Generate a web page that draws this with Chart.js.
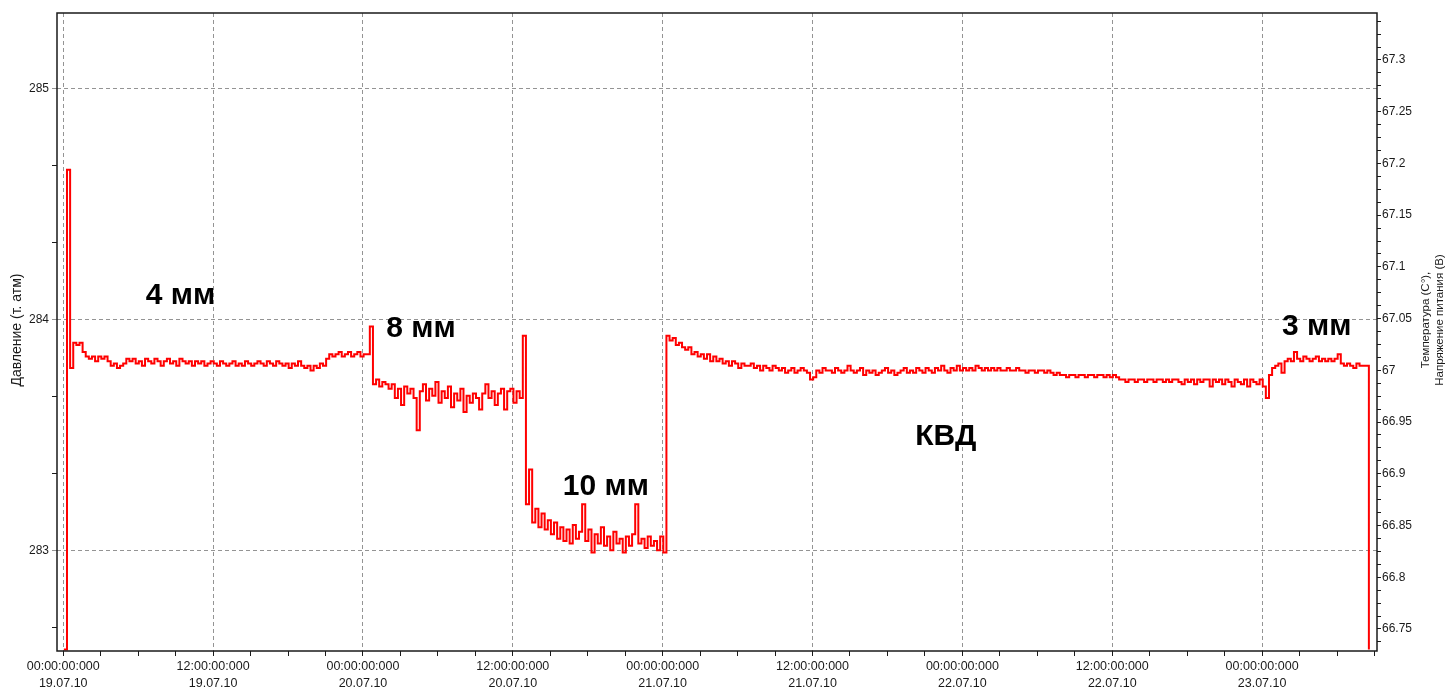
<!DOCTYPE html>
<html>
<head>
<meta charset="utf-8">
<script src="https://cdn.jsdelivr.net/npm/chart.js"></script>
<style>
html,body{margin:0;padding:0;background:#fff;}
#wrap{width:1445px;height:688px;position:relative;}
</style>
</head>
<body>
<div id="wrap"><canvas id="c" width="1445" height="688"></canvas></div>
<script>
// ---- DATA (hours since 19.07.10 00:00, logger samples every 15 min) ----
const startHour = 0.05;
const sampleStepHours = 0.25;

const seg4mm = [
 282.57, 284.65, 283.79, 283.90, 283.89, 283.90, 283.86, 283.84, 283.83, 283.84,
 283.82, 283.84, 283.83, 283.84, 283.82, 283.80, 283.81, 283.79, 283.80, 283.81,
 283.83, 283.82, 283.83, 283.81, 283.82, 283.80, 283.83, 283.82, 283.81, 283.83,
 283.82, 283.80, 283.82, 283.83, 283.81, 283.82, 283.80, 283.83, 283.82, 283.81,
 283.82, 283.80, 283.82, 283.81, 283.82, 283.80, 283.81, 283.82, 283.81, 283.80,
 283.82, 283.81, 283.80, 283.81, 283.82, 283.80, 283.81, 283.80, 283.82, 283.81,
 283.80, 283.81, 283.82, 283.81, 283.80, 283.82, 283.81, 283.80, 283.82, 283.81,
 283.80, 283.81, 283.79, 283.81, 283.80, 283.82, 283.80, 283.79, 283.80, 283.78,
 283.80, 283.79, 283.81, 283.80, 283.83, 283.85, 283.84, 283.85, 283.86, 283.84,
 283.85, 283.86, 283.84, 283.85, 283.86, 283.84, 283.85, 283.85, 283.97
];
const seg8mm = [
 283.72, 283.74, 283.71, 283.73, 283.72, 283.70, 283.72, 283.66, 283.70, 283.63,
 283.71, 283.68, 283.70, 283.66, 283.52, 283.69, 283.72, 283.65, 283.70, 283.67,
 283.73, 283.64, 283.69, 283.66, 283.71, 283.62, 283.68, 283.65, 283.70, 283.60,
 283.67, 283.64, 283.68, 283.66, 283.61, 283.68, 283.72, 283.66, 283.69, 283.63,
 283.68, 283.70, 283.61, 283.69, 283.70, 283.64, 283.69, 283.66, 283.93
];
const seg10mm = [
 283.20, 283.35, 283.12, 283.18, 283.10, 283.16, 283.09, 283.13, 283.07, 283.12,
 283.05, 283.10, 283.04, 283.09, 283.03, 283.11, 283.05, 283.08, 283.20, 283.04,
 283.09, 282.99, 283.07, 283.03, 283.10, 283.02, 283.06, 283.00, 283.08, 283.03,
 283.05, 282.99, 283.06, 283.02, 283.07, 283.20, 283.03, 283.05, 283.01, 283.06,
 283.02, 283.04, 283.00, 283.06, 282.99
];
const segKVD = [
 283.93, 283.91, 283.92, 283.89, 283.90, 283.88,
 283.87, 283.88, 283.85, 283.86, 283.84, 283.85, 283.83, 283.85, 283.82, 283.84,
 283.82, 283.83, 283.81, 283.82, 283.80, 283.82, 283.81, 283.79, 283.81, 283.80,
 283.80, 283.81, 283.79, 283.80, 283.78, 283.80, 283.79, 283.78, 283.80, 283.79,
 283.78, 283.79, 283.77, 283.78, 283.79, 283.77, 283.78, 283.79, 283.78, 283.77,
 283.74, 283.75, 283.78, 283.77, 283.79, 283.78, 283.78, 283.77, 283.79, 283.78,
 283.77, 283.78, 283.80, 283.78, 283.77, 283.78, 283.79, 283.76, 283.78, 283.77,
 283.78, 283.76, 283.77, 283.78, 283.79, 283.77, 283.78, 283.76, 283.77, 283.78,
 283.79, 283.77, 283.78, 283.77, 283.79, 283.78, 283.77, 283.79, 283.78, 283.77,
 283.79, 283.78, 283.80, 283.78, 283.77, 283.79, 283.78, 283.80, 283.78, 283.79,
 283.78, 283.79, 283.78, 283.80, 283.79, 283.78, 283.79, 283.78, 283.79, 283.78,
 283.79, 283.78, 283.78, 283.79, 283.78, 283.78, 283.79, 283.78, 283.78, 283.77,
 283.78, 283.78, 283.77, 283.78, 283.78, 283.77, 283.78, 283.77, 283.76, 283.77,
 283.76, 283.76, 283.75, 283.76, 283.76, 283.75, 283.76, 283.76, 283.75, 283.76,
 283.76, 283.75, 283.76, 283.76, 283.75, 283.76, 283.75, 283.76, 283.75, 283.74,
 283.74, 283.73, 283.74, 283.74, 283.73, 283.74, 283.74, 283.73, 283.74, 283.74,
 283.73, 283.74, 283.74, 283.73, 283.74, 283.73, 283.74, 283.74, 283.73, 283.72,
 283.74, 283.73, 283.74, 283.72, 283.74, 283.73, 283.74, 283.74, 283.71, 283.74,
 283.73, 283.74, 283.72, 283.74, 283.73, 283.71, 283.74, 283.73, 283.72, 283.74,
 283.71, 283.74, 283.73, 283.72, 283.74, 283.71
];
const seg3mm = [
 283.66, 283.76, 283.79, 283.80, 283.81, 283.77, 283.82, 283.83, 283.82, 283.86,
 283.83, 283.82, 283.84, 283.83, 283.82, 283.83, 283.84, 283.82, 283.83, 283.82,
 283.83, 283.82, 283.83, 283.85, 283.81, 283.80, 283.81, 283.80, 283.79, 283.81,
 283.80, 283.80, 283.80
];
const segEnd = [282.57];

// ---- axis ticks / labels ----
const xLabelHours = [0, 12, 24, 36, 48, 60, 72, 84, 96];
const xTimeLabels = ['00:00:00:000','12:00:00:000','00:00:00:000','12:00:00:000','00:00:00:000','12:00:00:000','00:00:00:000','12:00:00:000','00:00:00:000'];
const xDateLabels = ['19.07.10','19.07.10','20.07.10','20.07.10','21.07.10','21.07.10','22.07.10','22.07.10','23.07.10'];
const xMinorStepHours = 3;
const pressureLabelTicks = [283, 284, 285];
const pressureMinorTicks = [282.6667, 283.3333, 283.6667, 284.3333, 284.6667];
const rightLabelTicks = [66.75, 66.8, 66.85, 66.9, 66.95, 67, 67.05, 67.1, 67.15, 67.2, 67.25, 67.3];
const rightMinorStep = 0.0125;

const annotations = [
  {text: '4 мм',  hour: 9.38,  p: 284.068},
  {text: '8 мм',  hour: 28.64, p: 283.925},
  {text: '10 мм', hour: 43.45, p: 283.240},
  {text: 'КВД',   hour: 70.67, p: 283.457},
  {text: '3 мм',  hour: 100.38, p: 283.933}
];
const leftTitle = 'Давление (т. атм)';
const rightTitle = ['Температура (C°),', 'Напряжение питания (B)'];

// ---- build ----
const pressure = [].concat(seg4mm, seg8mm, seg10mm, segKVD, seg3mm, segEnd);
const points = pressure.map((v, i) => ({x: startHour + i * sampleStepHours, y: v}));

const xTicks = [];
for (let h = 0; h <= 105; h += xMinorStepHours) xTicks.push(h);
const yTicks = pressureMinorTicks.concat(pressureLabelTicks).sort((a, b) => a - b);
const rTicks = [];
for (let v = 66.7375; v <= 67.34; v += rightMinorStep) rTicks.push(Math.round(v * 10000) / 10000);

const isMajorX = v => xLabelHours.indexOf(v) >= 0;
const isMajorY = v => pressureLabelTicks.some(p => Math.abs(p - v) < 1e-6);
const isLabelR = v => rightLabelTicks.some(p => Math.abs(p - v) < 1e-6);

const FONT = '"Liberation Sans", Arial, sans-serif';
const GRID = '#949494';
const AXIS = '#1a1a1a';

const overlay = {
  id: 'overlay',
  afterDatasetsDraw(chart) {
    const {ctx, chartArea: a, scales} = chart;
    ctx.save();
    // annotations
    ctx.fillStyle = '#000';
    ctx.font = 'bold 30px ' + FONT;
    ctx.textAlign = 'center';
    ctx.textBaseline = 'alphabetic';
    annotations.forEach(n => {
      ctx.fillText(n.text, scales.x.getPixelForValue(n.hour), scales.y.getPixelForValue(n.p));
    });
    // frame
    ctx.strokeStyle = AXIS;
    ctx.lineWidth = 1.5;
    ctx.strokeRect(a.left, a.top, a.right - a.left, a.bottom - a.top);
    // axis titles
    ctx.fillStyle = AXIS;
    ctx.textAlign = 'center';
    ctx.textBaseline = 'middle';
    const cy = (a.top + a.bottom) / 2;
    ctx.save();
    ctx.font = '14px ' + FONT;
    ctx.translate(a.left - 40, cy - 2);
    ctx.rotate(-Math.PI / 2);
    ctx.fillText(leftTitle, 0, 0);
    ctx.restore();
    ctx.font = '11.5px ' + FONT;
    rightTitle.forEach((t, k) => {
      ctx.save();
      ctx.translate(a.right + 49 + k * 14, cy - 12);
      ctx.rotate(-Math.PI / 2);
      ctx.fillText(t, 0, 0);
      ctx.restore();
    });
    ctx.restore();
  }
};

new Chart(document.getElementById('c'), {
  type: 'line',
  data: {
    datasets: [{
      data: points,
      borderColor: '#ff0000',
      borderWidth: 2,
      pointRadius: 0,
      stepped: true,
      tension: 0,
      fill: false,
      yAxisID: 'y'
    }]
  },
  options: {
    responsive: false,
    animation: false,
    events: [],
    layout: {padding: {top: 13, left: 0, right: 0, bottom: 0}},
    plugins: {legend: {display: false}, tooltip: {enabled: false}},
    scales: {
      x: {
        type: 'linear',
        position: 'bottom',
        min: -0.5,
        max: 105.2,
        afterBuildTicks: s => { s.ticks = xTicks.map(v => ({value: v})); },
        afterFit: s => { s.height = 37; },
        border: {display: false, dash: [4, 3]},
        grid: {
          color: c => (c.tick && isMajorX(c.tick.value)) ? GRID : 'rgba(0,0,0,0)',
          lineWidth: 1,
          tickColor: AXIS,
          tickLength: 5,
          tickBorderDash: [],
          drawTicks: true
        },
        ticks: {
          autoSkip: false,
          maxRotation: 0,
          padding: 2,
          color: AXIS,
          font: {family: FONT, size: 12.5, lineHeight: 1.35},
          callback: v => {
            const k = xLabelHours.indexOf(v);
            return k >= 0 ? [xTimeLabels[k], xDateLabels[k]] : '';
          }
        }
      },
      y: {
        type: 'linear',
        position: 'left',
        min: 282.5634,
        max: 285.3295,
        afterBuildTicks: s => { s.ticks = yTicks.map(v => ({value: v})); },
        afterFit: s => { s.width = 57; },
        border: {display: false, dash: [4, 3]},
        grid: {
          color: c => (c.tick && isMajorY(c.tick.value)) ? GRID : 'rgba(0,0,0,0)',
          lineWidth: 1,
          tickColor: c => (c.tick && isMajorY(c.tick.value)) ? GRID : AXIS,
          tickLength: 5,
          tickBorderDash: []
        },
        ticks: {
          autoSkip: false,
          padding: 3,
          color: AXIS,
          font: {family: FONT, size: 12},
          callback: v => isMajorY(v) ? String(Math.round(v)) : ''
        }
      },
      y2: {
        type: 'linear',
        position: 'right',
        min: 66.7287,
        max: 67.3454,
        afterBuildTicks: s => { s.ticks = rTicks.map(v => ({value: v})); },
        afterFit: s => { s.width = 68; },
        border: {display: false},
        grid: {
          drawOnChartArea: false,
          tickColor: AXIS,
          tickLength: 4,
          tickBorderDash: []
        },
        ticks: {
          autoSkip: false,
          padding: 1,
          color: AXIS,
          font: {family: FONT, size: 12},
          callback: v => isLabelR(v) ? String(parseFloat(v.toFixed(2))) : ''
        }
      }
    }
  },
  plugins: [overlay]
});
</script>
</body>
</html>
